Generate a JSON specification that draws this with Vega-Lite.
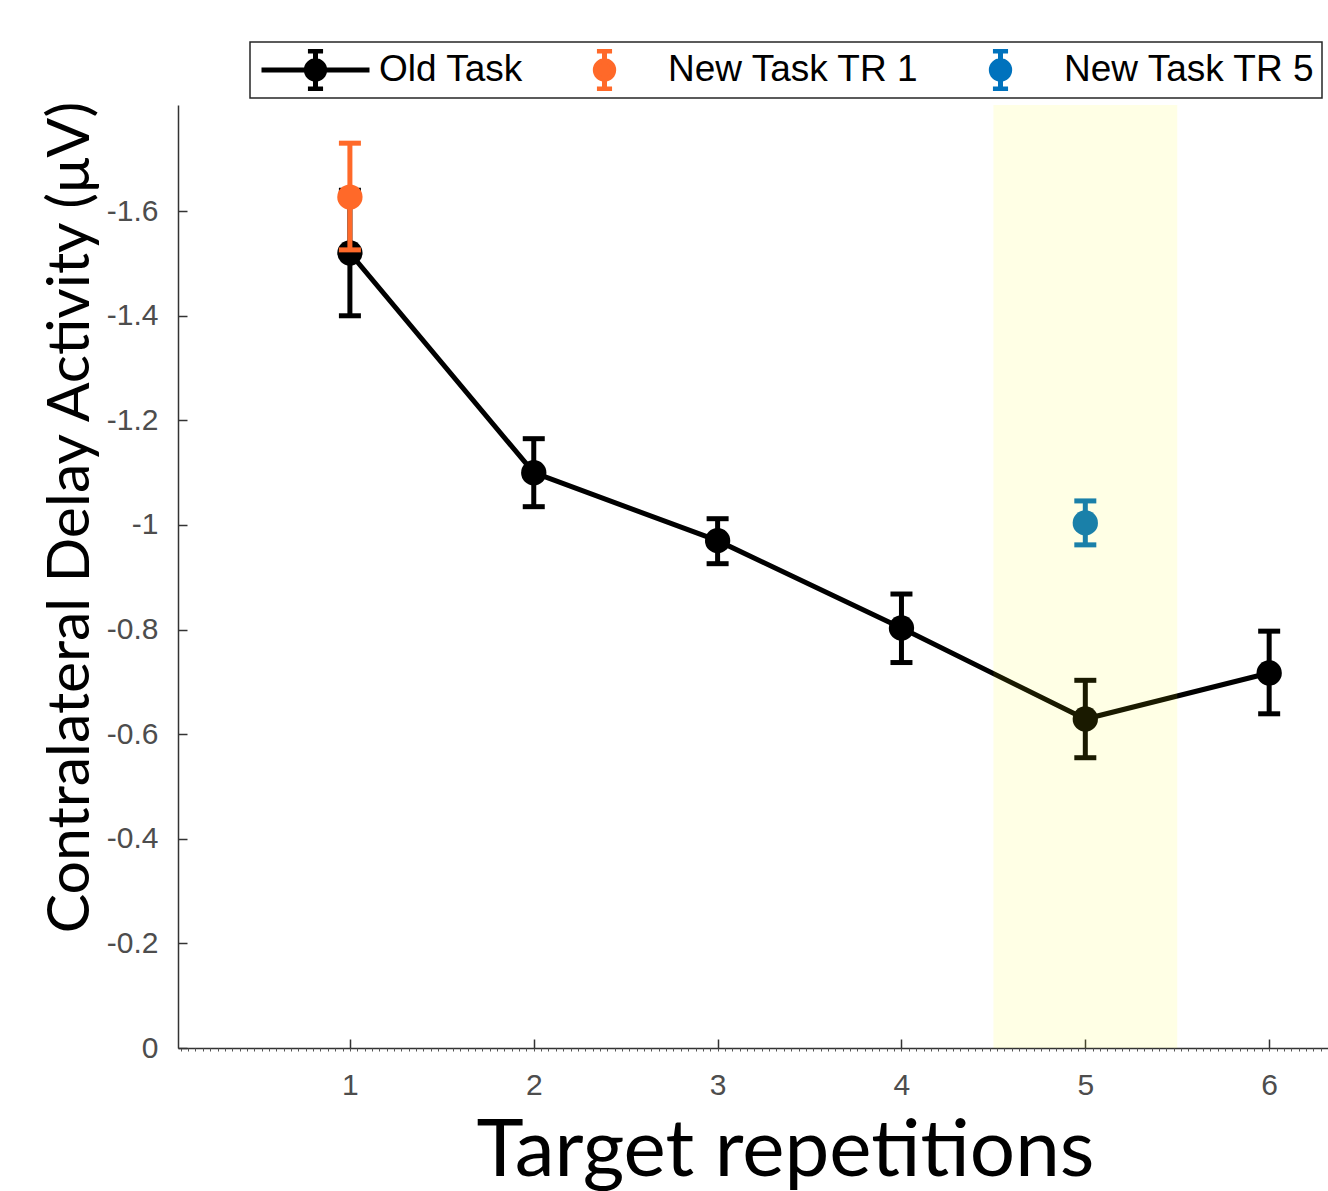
{
  "$schema": "https://vega.github.io/schema/vega-lite/v6.json",
  "autosize": {"type": "none"},
  "padding": {"left": 178, "top": 105, "right": 0, "bottom": 143},
  "width": 1150,
  "height": 943,
  "background": "white",
  "config": {"view": {"stroke": null}},
  "datasets": {
    "pts": [
      {"series": "Old Task", "rep": 1, "mean": -1.52, "lo": -1.64, "hi": -1.40},
      {"series": "Old Task", "rep": 2, "mean": -1.10, "lo": -1.165, "hi": -1.035},
      {"series": "Old Task", "rep": 3, "mean": -0.97, "lo": -1.012, "hi": -0.926},
      {"series": "Old Task", "rep": 4, "mean": -0.803, "lo": -0.868, "hi": -0.737},
      {"series": "Old Task", "rep": 5, "mean": -0.629, "lo": -0.703, "hi": -0.555},
      {"series": "Old Task", "rep": 6, "mean": -0.717, "lo": -0.797, "hi": -0.639},
      {"series": "New Task TR 1", "rep": 1, "mean": -1.627, "lo": -1.730, "hi": -1.526},
      {"series": "New Task TR 5", "rep": 5, "mean": -1.004, "lo": -1.046, "hi": -0.962}
    ],
    "band": [{"start": 4.5, "end": 5.5}]
  },
  "resolve": {"axis": {"x": "independent"}},
  "layer": [
    {
      "data": {"name": "pts"},
      "transform": [{"filter": "datum.series === 'Old Task'"}],
      "mark": {"type": "line", "color": "black", "strokeWidth": 5},
      "encoding": {
        "x": {"field": "rep", "type": "quantitative", "scale": {"domain": [0.065, 6.32], "nice": false, "zero": false},
          "axis": {
            "orient": "bottom",
            "values": [1, 2, 3, 4, 5, 6],
            "grid": false,
            "domainColor": "#333333", "domainWidth": 1.5,
            "tickColor": "#333333", "tickWidth": 1.5, "tickSize": -9,
            "labelFont": "Liberation Sans", "labelFontSize": 30, "labelColor": "#4D4D4D", "labelPadding": 31,
            "title": "Target repetitions",
            "titleFont": "Lato", "titleFontSize": 80, "titleFontWeight": "normal", "titleColor": "black",
            "titleX": 607, "titleY": 127, "titleAlign": "center", "titleBaseline": "alphabetic", "titleAnchor": null
          }
        },
        "y": {"field": "mean", "type": "quantitative",
          "scale": {"domain": [-1.803, 0], "nice": false, "reverse": true},
          "axis": {
            "values": [0, -0.2, -0.4, -0.6, -0.8, -1, -1.2, -1.4, -1.6],
            "labelExpr": "datum.value == 0 ? '0' : '-' + format(abs(datum.value), '.1~f')",
            "grid": false,
            "domainColor": "#333333", "domainWidth": 1.5,
            "tickColor": "#333333", "tickWidth": 1.5, "tickSize": -9,
            "labelFont": "Liberation Sans", "labelFontSize": 30, "labelColor": "#4D4D4D", "labelPadding": 29,
            "title": "Contralateral Delay Activity (μV)",
            "titleFont": "Lato", "titleFontSize": 59, "titleFontWeight": "normal", "titleColor": "black",
            "titleX": -90, "titleY": 412, "titleAlign": "center", "titleBaseline": "alphabetic", "titleAngle": -90
          }
        }
      }
    },
    {
      "data": {"name": "pts"},
      "transform": [{"filter": "datum.series === 'Old Task'"}],
      "mark": {"type": "rule", "strokeWidth": 5},
      "encoding": {
        "x": {"field": "rep", "type": "quantitative", "axis": null},
        "y": {"field": "lo", "type": "quantitative"},
        "y2": {"field": "hi"},
        "color": {"field": "series", "type": "nominal",
          "scale": {"domain": ["Old Task", "New Task TR 1", "New Task TR 5"], "range": ["#000000", "#FF6929", "#0072BD"]},
          "legend": {
            "orient": "none", "legendX": 72, "legendY": -63,
            "direction": "horizontal", "columns": 3, "title": null,
            "strokeColor": "#262626", "fillColor": "white",
            "padding": 7, "symbolOffset": 2,
            "symbolSize": 11664, "clipHeight": 42,
            "labelFont": "Liberation Sans", "labelFontSize": 37, "labelColor": "black",
            "labelOffset": 7, "labelLimit": 400, "columnPadding": 23,
            "encode": {
              "legend": {"update": {"strokeWidth": {"value": 1.5}}},
              "symbols": {
                "update": {
                  "shape": {"signal": "datum.value === 'Old Task' ? 'M-1,0H1M-0.17,0A0.17,0.17,0,1,1,0.17,0A0.17,0.17,0,1,1,-0.17,0ZM0,-0.35V0.35M-0.14,-0.35H0.14M-0.14,0.35H0.14' : 'M-0.17,0A0.17,0.17,0,1,1,0.17,0A0.17,0.17,0,1,1,-0.17,0ZM0,-0.35V0.35M-0.14,-0.35H0.14M-0.14,0.35H0.14'"},
                  "size": {"value": 11664},
                  "stroke": {"scale": "color", "field": "value"},
                  "fill": {"scale": "color", "field": "value"},
                  "strokeWidth": {"value": 5},
                  "opacity": {"value": 1}
                }
              }
            }
          }
        }
      }
    },
    {
      "data": {"name": "pts"},
      "transform": [{"filter": "datum.series === 'Old Task'"}],
      "mark": {"type": "tick", "orient": "horizontal", "size": 22, "thickness": 5, "opacity": 1},
      "encoding": {
        "x": {"field": "rep", "type": "quantitative", "axis": null},
        "y": {"field": "lo", "type": "quantitative"},
        "color": {"field": "series", "type": "nominal"}
      }
    },
    {
      "data": {"name": "pts"},
      "transform": [{"filter": "datum.series === 'Old Task'"}],
      "mark": {"type": "tick", "orient": "horizontal", "size": 22, "thickness": 5, "opacity": 1},
      "encoding": {
        "x": {"field": "rep", "type": "quantitative", "axis": null},
        "y": {"field": "hi", "type": "quantitative"},
        "color": {"field": "series", "type": "nominal"}
      }
    },
    {
      "data": {"name": "pts"},
      "transform": [{"filter": "datum.series === 'Old Task'"}],
      "mark": {"type": "point", "filled": true, "size": 640, "opacity": 1, "shape": "circle"},
      "encoding": {
        "x": {"field": "rep", "type": "quantitative", "axis": null},
        "y": {"field": "mean", "type": "quantitative"},
        "color": {"field": "series", "type": "nominal"}
      }
    },
    {
      "data": {"name": "pts"},
      "transform": [{"filter": "datum.series !== 'Old Task'"}],
      "mark": {"type": "rule", "strokeWidth": 5},
      "encoding": {
        "x": {"field": "rep", "type": "quantitative", "axis": null},
        "y": {"field": "lo", "type": "quantitative"},
        "y2": {"field": "hi"},
        "color": {"field": "series", "type": "nominal"}
      }
    },
    {
      "data": {"name": "pts"},
      "transform": [{"filter": "datum.series !== 'Old Task'"}],
      "mark": {"type": "tick", "orient": "horizontal", "size": 22, "thickness": 5, "opacity": 1},
      "encoding": {
        "x": {"field": "rep", "type": "quantitative", "axis": null},
        "y": {"field": "lo", "type": "quantitative"},
        "color": {"field": "series", "type": "nominal"}
      }
    },
    {
      "data": {"name": "pts"},
      "transform": [{"filter": "datum.series !== 'Old Task'"}],
      "mark": {"type": "tick", "orient": "horizontal", "size": 22, "thickness": 5, "opacity": 1},
      "encoding": {
        "x": {"field": "rep", "type": "quantitative", "axis": null},
        "y": {"field": "hi", "type": "quantitative"},
        "color": {"field": "series", "type": "nominal"}
      }
    },
    {
      "data": {"name": "pts"},
      "transform": [{"filter": "datum.series !== 'Old Task'"}],
      "mark": {"type": "point", "filled": true, "size": 640, "opacity": 1, "shape": "circle"},
      "encoding": {
        "x": {"field": "rep", "type": "quantitative", "axis": null},
        "y": {"field": "mean", "type": "quantitative"},
        "color": {"field": "series", "type": "nominal"}
      }
    },
    {
      "data": {"name": "band"},
      "mark": {"type": "rect", "color": "#FFFF00", "opacity": 0.1},
      "encoding": {
        "x": {"field": "start", "type": "quantitative",
          "axis": {
            "orient": "bottom", "title": null, "labels": false, "domain": false, "grid": false,
            "tickColor": "#555555", "tickWidth": 1, "tickSize": 3,
            "values": [0.08,0.12,0.16,0.2,0.24,0.28,0.32,0.36,0.4,0.44,0.48,0.52,0.56,0.6,0.64,0.68,0.72,0.76,0.8,0.84,0.88,0.92,0.96,
              1.0,1.04,1.08,1.12,1.16,1.2,1.24,1.28,1.32,1.36,1.4,1.44,1.48,1.52,1.56,1.6,1.64,1.68,1.72,1.76,1.8,1.84,1.88,1.92,1.96,
              2.0,2.04,2.08,2.12,2.16,2.2,2.24,2.28,2.32,2.36,2.4,2.44,2.48,2.52,2.56,2.6,2.64,2.68,2.72,2.76,2.8,2.84,2.88,2.92,2.96,
              3.0,3.04,3.08,3.12,3.16,3.2,3.24,3.28,3.32,3.36,3.4,3.44,3.48,3.52,3.56,3.6,3.64,3.68,3.72,3.76,3.8,3.84,3.88,3.92,3.96,
              4.0,4.04,4.08,4.12,4.16,4.2,4.24,4.28,4.32,4.36,4.4,4.44,4.48,4.52,4.56,4.6,4.64,4.68,4.72,4.76,4.8,4.84,4.88,4.92,4.96,
              5.0,5.04,5.08,5.12,5.16,5.2,5.24,5.28,5.32,5.36,5.4,5.44,5.48,5.52,5.56,5.6,5.64,5.68,5.72,5.76,5.8,5.84,5.88,5.92,5.96,
              6.0,6.04,6.08,6.12,6.16,6.2,6.24,6.28,6.32]
          }
        },
        "x2": {"field": "end"}
      }
    }
  ]
}
